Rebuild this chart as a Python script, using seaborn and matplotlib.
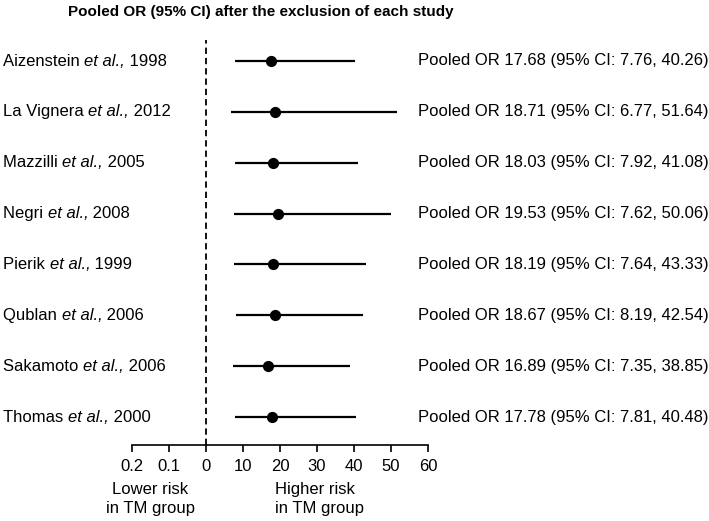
"""
Forest plot: pooled OR (95% CI) after leaving out each study in turn.
"""
import matplotlib
matplotlib.use('Agg')
import matplotlib.pyplot as plt
import matplotlib.transforms as mtransforms
import seaborn as sns
import pandas as pd

# Data
authors = ['Aizenstein', 'La Vignera', 'Mazzilli', 'Negri', 'Pierik',
           'Qublan', 'Sakamoto', 'Thomas']
years = [1998, 2012, 2005, 2008, 1999, 2006, 2006, 2000]
pooled_or = [17.68, 18.71, 18.03, 19.53, 18.19, 18.67, 16.89, 17.78]
ci_low = [7.76, 6.77, 7.92, 7.62, 7.64, 8.19, 7.35, 7.81]
ci_high = [40.26, 51.64, 41.08, 50.06, 43.33, 42.54, 38.85, 40.48]

tick_pos = [-20, -10, 0, 10, 20, 30, 40, 50, 60]
tick_labels = ['0.2', '0.1', '0', '10', '20', '30', '40', '50', '60']

df = pd.DataFrame({'author': authors, 'year': years, 'or': pooled_or,
                   'lo': ci_low, 'hi': ci_high})
df['row'] = range(len(df))

sns.set_style('white')
plt.rcParams['font.family'] = ['Liberation Sans', 'DejaVu Sans']
plt.rcParams['text.color'] = 'black'

W, H = 709, 521
FS = 12
fig = plt.figure(figsize=(W / 100, H / 100), dpi=100)

# axes placed in pixel terms: x -20..60 spans px 132..428, rows from y=40 to 445
x0, x1 = 132, 428
y_top, y_bot = 40, 445
ax = fig.add_axes([x0 / W, 1 - y_bot / H, (x1 - x0) / W, (y_bot - y_top) / H])

row0, step = 61, 50.86
ax.set_xlim(-20, 60)
ax.set_ylim((y_bot - row0) / step, (y_top - row0) / step)

# CI lines and point estimates
ax.hlines(df['row'], df['lo'], df['hi'], color='black', lw=1.6, zorder=2)
sns.scatterplot(data=df, x='or', y='row', ax=ax, color='black', s=65,
                edgecolor='black', linewidth=0, zorder=3, legend=False)
ax.axvline(0, color='black', lw=1.3, linestyle=(0, (3.5, 2.2)), zorder=1)

# axis styling
for side in ['top', 'right', 'left']:
    ax.spines[side].set_visible(False)
ax.spines['bottom'].set_linewidth(1.2)
ax.spines['bottom'].set_color('black')
ax.set_xticks(tick_pos)
ax.set_xticklabels(tick_labels, fontsize=FS)
ax.tick_params(axis='x', direction='out', length=5, width=1.2, pad=5,
               bottom=True, colors='black')
ax.set_yticks([])
ax.set_xlabel('')
ax.set_ylabel('')

# study labels (with italic "et al.,") and pooled OR text
renderer = fig.canvas.get_renderer()
trans = mtransforms.blended_transform_factory(fig.transFigure, ax.transData)
for _, r in df.iterrows():
    x = 3
    for piece, style in [(r['author'] + ' ', 'normal'), ('et al.,', 'italic'),
                         (f" {r['year']}", 'normal')]:
        t = ax.text(x / W, r['row'], piece, transform=trans, ha='left', va='center',
                    fontsize=FS, fontstyle=style, color='black', clip_on=False)
        x += t.get_window_extent(renderer).width
    ax.text(418 / W, r['row'],
            f"Pooled OR {r['or']:.2f} (95% CI: {r['lo']:.2f}, {r['hi']:.2f})",
            transform=trans, ha='left', va='center', fontsize=FS, color='black',
            clip_on=False)

# risk direction labels
fig.text(150 / W, 1 - 499 / H, 'Lower risk\nin TM group', ha='center', va='center',
         fontsize=FS, linespacing=1.35, color='black')
fig.text(275 / W, 1 - 499 / H, 'Higher risk\nin TM group', ha='left', va='center',
         fontsize=FS, linespacing=1.35, color='black')

fig.text(68 / W, 1 - 12 / H, 'Pooled OR (95% CI) after the exclusion of each study',
         ha='left', va='center', fontsize=11, fontweight='bold', color='black')

fig.savefig('out.png', dpi=100)
plt.close(fig)
